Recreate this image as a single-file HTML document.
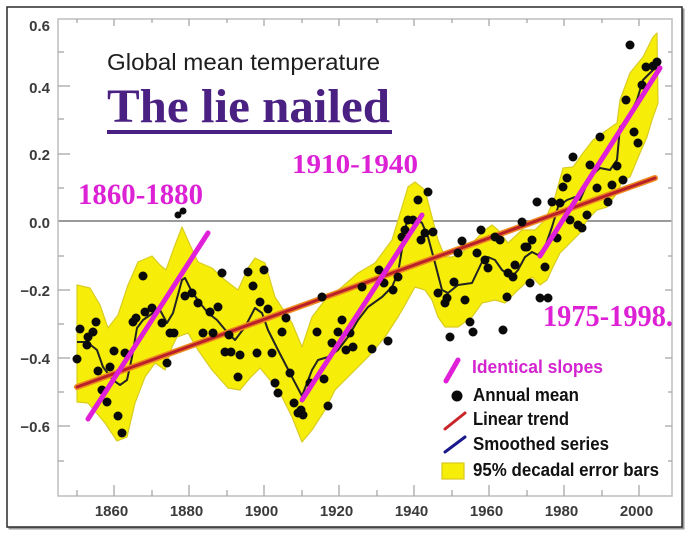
<!DOCTYPE html>
<html><head><meta charset="utf-8">
<style>html,body{margin:0;padding:0;background:#fff;}svg{display:block}</style>
</head>
<body>
<svg width="688" height="539" viewBox="0 0 688 539" xmlns="http://www.w3.org/2000/svg">
<rect x="0" y="0" width="688" height="539" fill="#fff"/>
<!-- frame with shadow -->
<rect x="9.5" y="9.5" width="674" height="519" fill="none" stroke="#9a9a9a" stroke-width="2"/>
<rect x="7" y="7" width="675" height="520" fill="#fff" stroke="#2a2a2a" stroke-width="1.5"/>

<!-- zero line -->
<line x1="58" y1="221" x2="672" y2="221" stroke="#9a9a9a" stroke-width="2"/>

<!-- yellow band -->
<polygon fill="#f6ee08" stroke="#d9cc20" stroke-width="1.2" stroke-linejoin="round" points="77,285 90,288 100,305 108,328 118,315 128,285 138,262 152,256 160,265 166,270 175,245 182,227 190,245 198,262 212,268 225,280 238,290 248,268 255,258 265,263 275,297 292,323 302,347 312,317 325,300 342,287 358,273 375,263 392,240 402,207 408,187 415,182 425,190 432,217 438,240 445,257 452,257 462,253 475,240 485,230 492,225 498,230 508,243 522,230 535,230 545,220 555,197 563,168 573,167 583,153 593,140 607,130 617,123 620,100 630,73 643,57 653,37 657,33 658,103 652,120 647,137 640,153 630,177 623,180 617,193 607,207 597,210 587,220 580,233 573,240 560,253 553,267 547,280 540,285 532,277 518,290 505,303 495,300 482,303 472,317 458,327 445,327 438,317 432,300 425,290 415,287 405,305 398,317 385,337 368,357 352,373 335,390 325,410 312,430 302,442 292,417 282,397 270,380 260,368 250,378 240,390 228,388 212,370 198,350 188,333 177,337 172,347 165,370 155,363 145,377 135,403 127,437 117,441 105,423 88,403 77,402"/>

<!-- axes -->
<g stroke="#bdbdbd" stroke-width="1.5" fill="none">
<rect x="58" y="19" width="614" height="477"/>
</g>
<g stroke="#a8a8a8" stroke-width="1.3">
<!-- left y ticks majors -->
<line x1="58" y1="86" x2="70" y2="86"/><line x1="58" y1="154" x2="70" y2="154"/>
<line x1="58" y1="290" x2="70" y2="290"/><line x1="58" y1="358" x2="70" y2="358"/>
<line x1="58" y1="426" x2="70" y2="426"/>
<!-- left minors -->
<line x1="58" y1="52" x2="64" y2="52"/><line x1="58" y1="119" x2="64" y2="119"/>
<line x1="58" y1="188" x2="64" y2="188"/><line x1="58" y1="256" x2="64" y2="256"/>
<line x1="58" y1="324" x2="64" y2="324"/><line x1="58" y1="392" x2="64" y2="392"/>
<line x1="58" y1="461" x2="64" y2="461"/>
<!-- right ticks -->
<line x1="665" y1="86" x2="672" y2="86"/><line x1="665" y1="154" x2="672" y2="154"/>
<line x1="665" y1="290" x2="672" y2="290"/><line x1="665" y1="358" x2="672" y2="358"/>
<line x1="665" y1="426" x2="672" y2="426"/>
<line x1="668" y1="52" x2="672" y2="52"/><line x1="668" y1="119" x2="672" y2="119"/>
<line x1="668" y1="188" x2="672" y2="188"/><line x1="668" y1="256" x2="672" y2="256"/>
<line x1="668" y1="324" x2="672" y2="324"/><line x1="668" y1="392" x2="672" y2="392"/>
<line x1="668" y1="461" x2="672" y2="461"/>
<!-- bottom x ticks majors -->
<line x1="114" y1="496" x2="114" y2="485"/><line x1="189" y1="496" x2="189" y2="485"/>
<line x1="264" y1="496" x2="264" y2="485"/><line x1="339" y1="496" x2="339" y2="485"/>
<line x1="414" y1="496" x2="414" y2="485"/><line x1="489" y1="496" x2="489" y2="485"/>
<line x1="564" y1="496" x2="564" y2="485"/><line x1="639" y1="496" x2="639" y2="485"/>
<!-- bottom minors -->
<line x1="77" y1="496" x2="77" y2="490"/><line x1="152" y1="496" x2="152" y2="490"/>
<line x1="227" y1="496" x2="227" y2="490"/><line x1="302" y1="496" x2="302" y2="490"/>
<line x1="377" y1="496" x2="377" y2="490"/><line x1="452" y1="496" x2="452" y2="490"/>
<line x1="527" y1="496" x2="527" y2="490"/><line x1="602" y1="496" x2="602" y2="490"/>
<!-- top ticks -->
<line x1="114" y1="19" x2="114" y2="26"/><line x1="189" y1="19" x2="189" y2="26"/>
<line x1="264" y1="19" x2="264" y2="26"/><line x1="339" y1="19" x2="339" y2="26"/>
<line x1="414" y1="19" x2="414" y2="26"/><line x1="489" y1="19" x2="489" y2="26"/>
<line x1="564" y1="19" x2="564" y2="26"/><line x1="639" y1="19" x2="639" y2="26"/>
<line x1="77" y1="19" x2="77" y2="23"/><line x1="152" y1="19" x2="152" y2="23"/>
<line x1="227" y1="19" x2="227" y2="23"/><line x1="302" y1="19" x2="302" y2="23"/>
<line x1="377" y1="19" x2="377" y2="23"/><line x1="452" y1="19" x2="452" y2="23"/>
<line x1="527" y1="19" x2="527" y2="23"/><line x1="602" y1="19" x2="602" y2="23"/>
</g>

<!-- smoothed series -->
<polyline fill="none" stroke="#232323" stroke-width="2" stroke-linejoin="round" points="77,342 87,342 97,350 103,367 113,380 120,385 127,380 132,357 137,328 143,320 153,313 160,310 167,323 173,313 182,280 185,278 192,292 200,303 208,313 217,320 227,332 235,340 245,327 255,308 262,313 268,330 278,350 292,377 302,396 312,370 318,360 328,357 338,350 348,337 358,320 368,307 382,297 392,287 398,273 403,243 407,220 415,218 422,223 428,237 435,263 442,290 448,293 458,285 472,283 482,262 488,257 495,260 502,270 512,277 518,270 525,257 532,252 538,255 545,247 552,227 558,207 567,200 575,197 580,200 590,177 600,168 610,170 617,160 620,127 627,120 637,100 643,80 653,70 657,68"/>

<!-- linear trend -->
<line x1="77" y1="387" x2="655" y2="178" stroke="#f08a20" stroke-width="6" stroke-linecap="round"/>
<line x1="77" y1="387" x2="655" y2="178" stroke="#b8202a" stroke-width="3" stroke-linecap="round"/>

<!-- annual means -->
<g fill="#0a0a0a">
<circle cx="77" cy="359" r="4.5"/><circle cx="80" cy="329" r="4.5"/><circle cx="87" cy="345" r="4.5"/><circle cx="88" cy="337" r="4.5"/><circle cx="93" cy="332" r="4.5"/><circle cx="96" cy="322" r="4.5"/><circle cx="98" cy="371" r="4.5"/><circle cx="102" cy="390" r="4.5"/><circle cx="107" cy="402" r="4.5"/><circle cx="110" cy="367" r="4.5"/><circle cx="114" cy="351" r="4.5"/><circle cx="118" cy="416" r="4.5"/><circle cx="122" cy="433" r="4.5"/><circle cx="125" cy="353" r="4.5"/><circle cx="133" cy="322" r="4.5"/><circle cx="136" cy="318" r="4.5"/><circle cx="143" cy="276" r="4.5"/><circle cx="145" cy="312" r="4.5"/><circle cx="152" cy="308" r="4.5"/><circle cx="162" cy="323" r="4.5"/><circle cx="167" cy="363" r="4.5"/><circle cx="170" cy="333" r="4.5"/><circle cx="174" cy="333" r="4.5"/>
<circle cx="178" cy="215" r="3.5"/><circle cx="183" cy="211" r="3.5"/>
<circle cx="185" cy="296" r="4.5"/><circle cx="192" cy="293" r="4.5"/><circle cx="198" cy="303" r="4.5"/><circle cx="203" cy="333" r="4.5"/><circle cx="210" cy="312" r="4.5"/><circle cx="213" cy="333" r="4.5"/><circle cx="218" cy="307" r="4.5"/><circle cx="222" cy="273" r="4.5"/><circle cx="225" cy="352" r="4.5"/><circle cx="231" cy="352" r="4.5"/><circle cx="229" cy="335" r="4.5"/><circle cx="240" cy="355" r="4.5"/><circle cx="238" cy="377" r="4.5"/>
<circle cx="248" cy="272" r="4.5"/><circle cx="253" cy="286" r="4.5"/><circle cx="264" cy="270" r="4.5"/><circle cx="260" cy="302" r="4.5"/><circle cx="268" cy="309" r="4.5"/><circle cx="286" cy="318" r="4.5"/><circle cx="282" cy="332" r="4.5"/><circle cx="257" cy="353" r="4.5"/><circle cx="272" cy="353" r="4.5"/><circle cx="275" cy="383" r="4.5"/><circle cx="278" cy="393" r="4.5"/><circle cx="290" cy="373" r="4.5"/><circle cx="294" cy="403" r="4.5"/><circle cx="298" cy="413" r="4.5"/><circle cx="303" cy="415" r="4.5"/><circle cx="301" cy="410" r="4.5"/><circle cx="310" cy="383" r="4.5"/><circle cx="317" cy="332" r="4.5"/><circle cx="322" cy="297" r="4.5"/><circle cx="324" cy="379" r="4.5"/><circle cx="328" cy="406" r="4.5"/><circle cx="332" cy="343" r="4.5"/><circle cx="338" cy="332" r="4.5"/><circle cx="342" cy="320" r="4.5"/><circle cx="346" cy="350" r="4.5"/><circle cx="350" cy="333" r="4.5"/><circle cx="353" cy="347" r="4.5"/><circle cx="362" cy="287" r="4.5"/><circle cx="372" cy="349" r="4.5"/><circle cx="379" cy="270" r="4.5"/><circle cx="384" cy="283" r="4.5"/><circle cx="388" cy="341" r="4.5"/><circle cx="393" cy="290" r="4.5"/><circle cx="398" cy="277" r="4.5"/><circle cx="402" cy="237" r="4.5"/>
<circle cx="405" cy="230" r="4.5"/><circle cx="408" cy="220" r="4.5"/><circle cx="413" cy="220" r="4.5"/><circle cx="418" cy="200" r="4.5"/><circle cx="428" cy="192" r="4.5"/><circle cx="421" cy="240" r="4.5"/><circle cx="425" cy="233" r="4.5"/><circle cx="433" cy="232" r="4.5"/><circle cx="438" cy="293" r="4.5"/><circle cx="445" cy="303" r="4.5"/><circle cx="447" cy="298" r="4.5"/><circle cx="454" cy="282" r="4.5"/><circle cx="450" cy="337" r="4.5"/><circle cx="458" cy="253" r="4.5"/><circle cx="462" cy="241" r="4.5"/><circle cx="465" cy="300" r="4.5"/><circle cx="470" cy="322" r="4.5"/><circle cx="473" cy="332" r="4.5"/><circle cx="477" cy="253" r="4.5"/><circle cx="481" cy="230" r="4.5"/><circle cx="485" cy="260" r="4.5"/><circle cx="488" cy="268" r="4.5"/><circle cx="495" cy="237" r="4.5"/><circle cx="500" cy="240" r="4.5"/><circle cx="503" cy="330" r="4.5"/><circle cx="507" cy="297" r="4.5"/><circle cx="508" cy="273" r="4.5"/><circle cx="513" cy="277" r="4.5"/><circle cx="515" cy="265" r="4.5"/><circle cx="522" cy="222" r="4.5"/><circle cx="527" cy="247" r="4.5"/><circle cx="532" cy="240" r="4.5"/><circle cx="530" cy="283" r="4.5"/><circle cx="540" cy="298" r="4.5"/><circle cx="548" cy="298" r="4.5"/><circle cx="537" cy="202" r="4.5"/><circle cx="552" cy="202" r="4.5"/><circle cx="560" cy="203" r="4.5"/><circle cx="557" cy="238" r="4.5"/><circle cx="545" cy="267" r="4.5"/><circle cx="525" cy="247" r="4.5"/>
<circle cx="563" cy="187" r="4.5"/><circle cx="567" cy="178" r="4.5"/><circle cx="573" cy="157" r="4.5"/><circle cx="590" cy="165" r="4.5"/><circle cx="600" cy="137" r="4.5"/><circle cx="617" cy="166" r="4.5"/><circle cx="597" cy="188" r="4.5"/><circle cx="612" cy="185" r="4.5"/><circle cx="623" cy="180" r="4.5"/><circle cx="608" cy="202" r="4.5"/><circle cx="570" cy="220" r="4.5"/><circle cx="587" cy="215" r="4.5"/><circle cx="578" cy="225" r="4.5"/><circle cx="582" cy="228" r="4.5"/><circle cx="626" cy="100" r="4.5"/><circle cx="634" cy="132" r="4.5"/><circle cx="638" cy="143" r="4.5"/><circle cx="642" cy="85" r="4.5"/><circle cx="630" cy="45" r="4.5"/><circle cx="646" cy="67" r="4.5"/><circle cx="653" cy="66" r="4.5"/><circle cx="657" cy="62" r="4.5"/>
</g>

<!-- identical slopes -->
<g stroke="#e020d8" stroke-width="5" stroke-linecap="round">
<line x1="88" y1="419" x2="208" y2="233"/>
<line x1="302" y1="400" x2="422" y2="215"/>
<line x1="540" y1="256" x2="660" y2="68"/>
</g>

<!-- axis labels -->
<g font-family="Liberation Sans, Arial, sans-serif" font-weight="bold" font-size="15" fill="#3a3a3a" text-anchor="end">
<text x="50" y="31">0.6</text>
<text x="50" y="93">0.4</text>
<text x="50" y="160">0.2</text>
<text x="50" y="228">0.0</text>
<text x="50" y="296">−0.2</text>
<text x="50" y="364">−0.4</text>
<text x="50" y="432">−0.6</text>
</g>
<g font-family="Liberation Sans, Arial, sans-serif" font-weight="bold" font-size="15" fill="#3a3a3a" text-anchor="middle">
<text x="111.5" y="516">1860</text>
<text x="186.5" y="516">1880</text>
<text x="261.5" y="516">1900</text>
<text x="336.5" y="516">1920</text>
<text x="411.5" y="516">1940</text>
<text x="486.5" y="516">1960</text>
<text x="561.5" y="516">1980</text>
<text x="636.5" y="516">2000</text>
</g>

<!-- titles -->
<text x="107" y="70" font-family="Liberation Sans, Arial, sans-serif" font-size="23" fill="#1e1e1e" textLength="273" lengthAdjust="spacingAndGlyphs">Global mean temperature</text>
<text x="107" y="122" font-family="Liberation Serif, Times New Roman, serif" font-weight="bold" font-size="48" fill="#4a2082" textLength="283" lengthAdjust="spacingAndGlyphs">The lie nailed</text>
<rect x="107" y="130" width="285" height="4" fill="#4a2082"/>

<g font-family="Liberation Serif, Times New Roman, serif" font-weight="bold" fill="#dd22d6">
<text x="78" y="204" font-size="30" textLength="125" lengthAdjust="spacingAndGlyphs">1860-1880</text>
<text x="292" y="173" font-size="27" textLength="126" lengthAdjust="spacingAndGlyphs">1910-1940</text>
<text x="543" y="326" font-size="31" textLength="130" lengthAdjust="spacingAndGlyphs">1975-1998.</text>
</g>

<!-- legend -->
<line x1="446" y1="381" x2="458" y2="360" stroke="#e020d8" stroke-width="5" stroke-linecap="round"/>
<circle cx="457" cy="396" r="5.5" fill="#0a0a0a"/>
<line x1="445" y1="429" x2="465" y2="413" stroke="#c8242a" stroke-width="3" stroke-linecap="round"/>
<line x1="445" y1="452" x2="465" y2="437" stroke="#1a1a8c" stroke-width="3" stroke-linecap="round"/>
<rect x="442" y="463" width="22" height="16" fill="#f6ee08" stroke="#d9c820" stroke-width="1.2"/>
<g font-family="Liberation Sans, Arial, sans-serif" font-weight="bold" font-size="18">
<text x="472" y="373" fill="#d424d0" textLength="131" lengthAdjust="spacingAndGlyphs">Identical slopes</text>
<text x="473" y="401" fill="#111" textLength="106" lengthAdjust="spacingAndGlyphs">Annual mean</text>
<text x="473" y="425" fill="#111" textLength="96" lengthAdjust="spacingAndGlyphs">Linear trend</text>
<text x="473" y="450" fill="#111" textLength="136" lengthAdjust="spacingAndGlyphs">Smoothed series</text>
<text x="473" y="476" fill="#111" textLength="186" lengthAdjust="spacingAndGlyphs">95% decadal error bars</text>
</g>
</svg>
</body></html>
